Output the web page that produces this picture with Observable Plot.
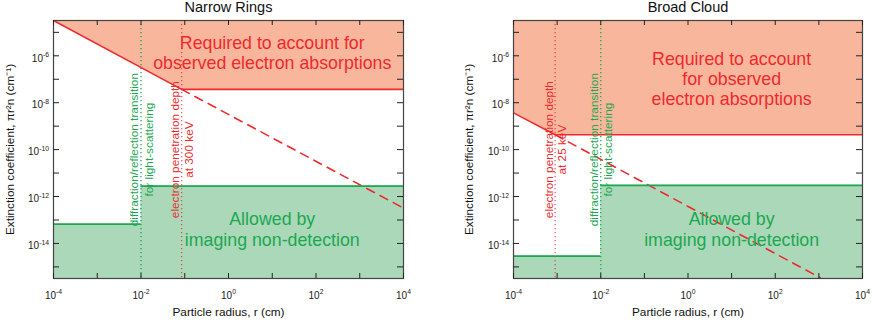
<!DOCTYPE html>
<html><head><meta charset="utf-8">
<script src="https://cdn.jsdelivr.net/npm/d3@7"></script>
<script src="https://cdn.jsdelivr.net/npm/@observablehq/plot@0.6"></script>
<style>
body{margin:0;background:#fff;font-family:"Liberation Sans",Arial,Helvetica,sans-serif}
#wrap{display:flex;width:872px;height:320px}
</style></head><body><div id="wrap"></div>
<script>
// ---- shared axis data ----
const panelTitles = ["Narrow Rings", "Broad Cloud"];
const xRange = [1e-4, 1e4];
const yRange = [3.2e-16, 3.2e-5];
const xTickMajor = [1e-4, 1e-2, 1, 1e2, 1e4];
const xTickMinor = [1e-3, 1e-1, 1e1, 1e3];
const yTickMajor = [1e-14, 1e-12, 1e-10, 1e-8, 1e-6];
const yTickMinor = [1e-15, 1e-13, 1e-11, 1e-9, 1e-7, 1e-5];

// ---- Narrow Rings ----
const nrRedX = [1e-4, 0.085, 1e4];
const nrRedY = [3.2e-5, 3.7e-8, 3.7e-8];
const nrDashX = [0.085, 1e4];
const nrDashY = [3.7e-8, 3.2e-13];
const nrGreenX = [1e-4, 1e-2, 1e4];
const nrGreenY = [6.6e-14, 2.8e-12, 2.8e-12];
const nrPenetration = 0.085;
const nrTransition = 1e-2;
const nrRedText = "Required to account for\nobserved electron absorptions";
const nrGreenText = "Allowed by\nimaging non-detection";
const nrPenText = "electron penetration depth\nat 300 keV";
const nrTransText = "diffraction/reflection transition\nfor light-scattering";

// ---- Broad Cloud ----
const bcRedX = [1e-4, 9e-4, 1e4];
const bcRedY = [3.7e-9, 4.3e-10, 4.3e-10];
const bcDashX = [9e-4, 1.07e3];
const bcDashY = [4.3e-10, 3.45e-16];
const bcGreenX = [1e-4, 1e-2, 1e4];
const bcGreenY = [2.9e-15, 3.0e-12, 3.0e-12];
const bcPenetration = 9e-4;
const bcTransition = 1e-2;
const bcRedText = "Required to account\nfor observed\nelectron absorptions";
const bcGreenText = "Allowed by\nimaging non-detection";
const bcPenText = "electron penetration depth\nat 25 keV";
const bcTransText = "diffraction/reflection transition\nfor light-scattering";

const xLabel = "Particle radius, r (cm)";
const yLabel = "Extinction coefficient, \u03C0r\u00B2n (cm\u207B\u00B9)";

const RED = "#ee2a2e", RED_FILL = "#f8b69c", GREEN = "#1ba851", GREEN_FILL = "#abd8b9", INK = "#222";

const panels = [
  {title: panelTitles[0], redX: nrRedX, redY: nrRedY, dashX: nrDashX, dashY: nrDashY,
   greenX: nrGreenX, greenY: nrGreenY, pen: nrPenetration, trans: nrTransition,
   redText: nrRedText, greenText: nrGreenText, penText: nrPenText, transText: nrTransText,
   ml: 53, mr: 33, redTextY: 1.35e-6, labelDx: -43},
  {title: panelTitles[1], redX: bcRedX, redY: bcRedY, dashX: bcDashX, dashY: bcDashY,
   greenX: bcGreenX, greenY: bcGreenY, pen: bcPenetration, trans: bcTransition,
   redText: bcRedText, greenText: bcGreenText, penText: bcPenText, transText: bcTransText,
   ml: 77, mr: 10, redTextY: 1.07e-7, labelDx: -44}
];

const fmt = d => `10^${Math.round(Math.log10(d))}`;

function makePanel(p) {
  const W = 436, H = 320, mt = 20, mb = 42;
  const pw = W - p.ml - p.mr, ph = H - mt - mb;
  const red = p.redX.map((x, i) => ({x, y: p.redY[i]}));
  const dash = p.dashX.map((x, i) => ({x, y: p.dashY[i]}));
  const green = p.greenX.map((x, i) => ({x, y: p.greenY[i]}));
  const greenSeg = p.greenX.slice(0, -1).map((x, i) => ({x1: x, x2: p.greenX[i + 1], y: p.greenY[i]}));
  const xTicks = xTickMajor.map(v => ({v, major: true})).concat(xTickMinor.map(v => ({v, major: false})));
  const yTicks = yTickMajor.map(v => ({v, major: true})).concat(yTickMinor.map(v => ({v, major: false})));
  const svg = Plot.plot({
    width: W, height: H, marginTop: mt, marginBottom: mb, marginLeft: p.ml, marginRight: p.mr,
    style: {fontFamily: "'Liberation Sans', Arial, Helvetica, sans-serif", background: "white", overflow: "visible"},
    x: {type: "log", domain: xRange},
    y: {type: "log", domain: yRange},
    marks: [
      Plot.areaY(red, {x: "x", y1: "y", y2: yRange[1], fill: RED_FILL, clip: true}),
      Plot.areaY(green, {x: "x", y1: yRange[0], y2: "y", fill: GREEN_FILL, curve: "step-after", clip: true}),
      Plot.ruleX([p.trans], {x: d => d, stroke: GREEN, strokeWidth: 1.3, strokeDasharray: "1.3,2.7"}),
      Plot.ruleX([p.pen], {x: d => d, stroke: RED, strokeOpacity: 0.75, strokeWidth: 1.3, strokeDasharray: "1.3,2.7"}),
      Plot.line(dash, {x: "x", y: "y", stroke: RED, strokeWidth: 1.6, strokeDasharray: "8.5,6.5", clip: true}),
      Plot.line(red, {x: "x", y: "y", stroke: RED, strokeWidth: 1.6, clip: true}),
      Plot.ruleY(greenSeg, {x1: "x1", x2: "x2", y: "y", stroke: GREEN, strokeWidth: 1.8}),
      Plot.text([p.redText], {x: () => 10, y: () => p.redTextY, text: d => d, fill: RED, fontSize: 17.8, lineHeight: 1.13}),
      Plot.text([p.greenText], {x: () => 10, y: () => 4.1e-14, text: d => d, fill: GREEN, fontSize: 17.8, lineHeight: 1.13}),
      Plot.text([p.penText], {x: () => p.pen, y: () => 1e-10, text: d => d, fill: RED, fontSize: 11.8, lineHeight: 1.17, rotate: -90}),
      Plot.text([p.transText], {x: () => p.trans, y: () => 1e-10, text: d => d, fill: GREEN, fontSize: 11.8, lineHeight: 1.2, rotate: -90}),
      Plot.frame({stroke: "#444", strokeWidth: 1.2}),
      Plot.tickX(xTicks, {x: "v", stroke: INK, insetTop: ph - 5}),
      Plot.tickX(xTicks, {x: "v", stroke: INK, insetBottom: ph - 5}),
      Plot.tickY(yTicks, {y: "v", stroke: INK, insetRight: pw - 6}),
      Plot.tickY(yTicks, {y: "v", stroke: INK, insetLeft: pw - 6}),
      Plot.axisX({ticks: xTickMajor, tickSize: 0, tickPadding: 13, tickFormat: fmt, fontSize: 10, label: null, fill: INK}),
      Plot.axisY({ticks: yTickMajor, tickSize: 0, tickPadding: 4.5, dy: 2.5, tickFormat: fmt, fontSize: 10, label: null, fill: INK}),
      Plot.text([p.title], {frameAnchor: "top", textAnchor: "middle", lineAnchor: "middle", dy: -12.9, text: d => d, fontSize: 14.5, fill: "#111"}),
      Plot.text([xLabel], {frameAnchor: "bottom", textAnchor: "middle", lineAnchor: "middle", dy: 34, text: d => d, fontSize: 11.8, fill: "#111"}),
      Plot.text([yLabel], {frameAnchor: "left", textAnchor: "middle", lineAnchor: "middle", dx: p.labelDx, rotate: -90, text: d => d, fontSize: 11.8, fill: "#111"})
    ]
  });
  // superscript exponents in tick labels
  svg.querySelectorAll("text").forEach(t => {
    const m = /^10\^(-?\d+)$/.exec(t.textContent);
    if (m) {
      t.textContent = "";
      const a = document.createElementNS("http://www.w3.org/2000/svg", "tspan");
      a.textContent = "10";
      const b = document.createElementNS("http://www.w3.org/2000/svg", "tspan");
      b.textContent = m[1];
      b.setAttribute("dy", "-4.5");
      b.setAttribute("font-size", "6.8");
      t.appendChild(a); t.appendChild(b);
    }
  });
  return svg;
}

const wrap = document.getElementById("wrap");
panels.forEach(p => wrap.appendChild(makePanel(p)));
</script>
</body></html>
